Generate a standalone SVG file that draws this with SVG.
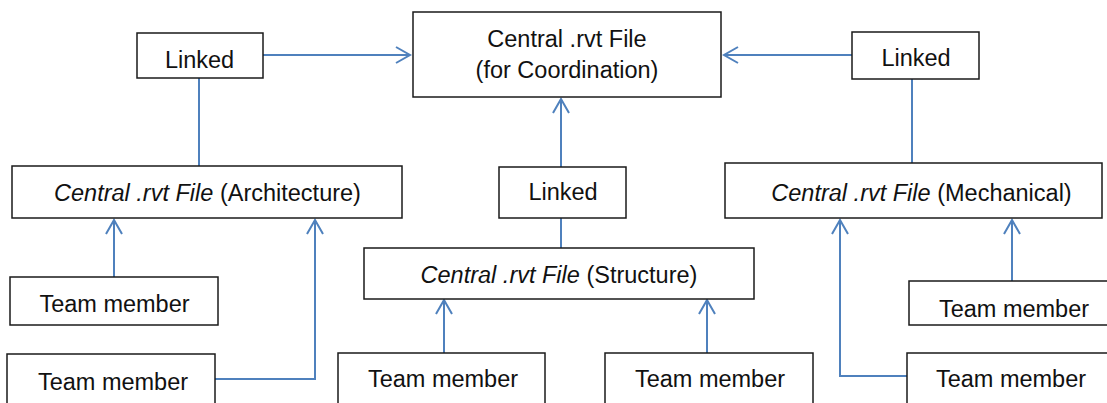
<svg xmlns="http://www.w3.org/2000/svg" width="1107" height="403" viewBox="0 0 1107 403">
<style>
.box{fill:#fff;stroke:#1a1a1a;stroke-width:1.5}
.t{font-family:"Liberation Sans",Arial,sans-serif;font-size:23.5px;fill:#111;text-anchor:middle}
.i{font-style:italic}
.c{fill:none;stroke:#4F81BD;stroke-width:2}
</style>
<defs>
<marker id="arr" viewBox="-16 -10 18 20" refX="0" refY="0" markerWidth="18" markerHeight="20" markerUnits="userSpaceOnUse" orient="auto">
<path d="M-14,-8 L0,0 L-14,8" fill="none" stroke="#4F81BD" stroke-width="2"/>
</marker>
</defs>
<rect width="1107" height="403" fill="#fff"/>
<g id="connectors">
<path class="c" d="M263,55 H410" marker-end="url(#arr)"/>
<path class="c" d="M852,55 H724" marker-end="url(#arr)"/>
<path class="c" d="M199,78 V166"/>
<path class="c" d="M912,79 V163"/>
<path class="c" d="M561,167 V99" marker-end="url(#arr)"/>
<path class="c" d="M561,218 V248"/>
<path class="c" d="M114,277 V220" marker-end="url(#arr)"/>
<path class="c" d="M215,379 H315 V220" marker-end="url(#arr)"/>
<path class="c" d="M444,353 V300" marker-end="url(#arr)"/>
<path class="c" d="M707,353 V300" marker-end="url(#arr)"/>
<path class="c" d="M910,376 H840 V220" marker-end="url(#arr)"/>
<path class="c" d="M1012,281 V220" marker-end="url(#arr)"/>
</g>
<g id="coord">
<rect class="box" x="413" y="12" width="308" height="85"/>
<text class="t" x="567" y="47">Central .rvt File</text>
<text class="t" x="567" y="78">(for Coordination)</text>
</g>
<g id="linked-arch">
<rect class="box" x="137" y="33" width="126" height="45"/>
<text class="t" x="199.5" y="68">Linked</text>
</g>
<g id="linked-mech">
<rect class="box" x="852" y="32" width="127" height="47"/>
<text class="t" x="916" y="66">Linked</text>
</g>
<g id="linked-struct">
<rect class="box" x="499" y="167" width="127" height="51"/>
<text class="t" x="563" y="200">Linked</text>
</g>
<g id="central-arch">
<rect class="box" x="12" y="166" width="390" height="52"/>
<text class="t" x="207.5" y="201"><tspan class="i">Central .rvt File</tspan> (Architecture)</text>
</g>
<g id="central-mech">
<rect class="box" x="725" y="163" width="377" height="55"/>
<text class="t" x="921.5" y="201"><tspan class="i">Central .rvt File</tspan> (Mechanical)</text>
</g>
<g id="central-struct">
<rect class="box" x="364" y="248" width="390" height="51"/>
<text class="t" x="559" y="283"><tspan class="i">Central .rvt File</tspan> (Structure)</text>
</g>
<g id="tm1">
<rect class="box" x="10" y="277" width="208" height="48"/>
<text class="t" x="114.5" y="312">Team member</text>
</g>
<g id="tm2">
<rect class="box" x="7" y="354" width="208" height="60"/>
<text class="t" x="113" y="390">Team member</text>
</g>
<g id="tm3">
<rect class="box" x="338" y="353" width="207" height="60"/>
<text class="t" x="443" y="387">Team member</text>
</g>
<g id="tm4">
<rect class="box" x="605" y="353" width="208" height="60"/>
<text class="t" x="710" y="387">Team member</text>
</g>
<g id="tm5">
<rect class="box" x="909" y="281" width="210" height="44"/>
<text class="t" x="1014" y="317">Team member</text>
</g>
<g id="tm6">
<rect class="box" x="907" y="353" width="210" height="60"/>
<text class="t" x="1011" y="387">Team member</text>
</g>
</svg>
